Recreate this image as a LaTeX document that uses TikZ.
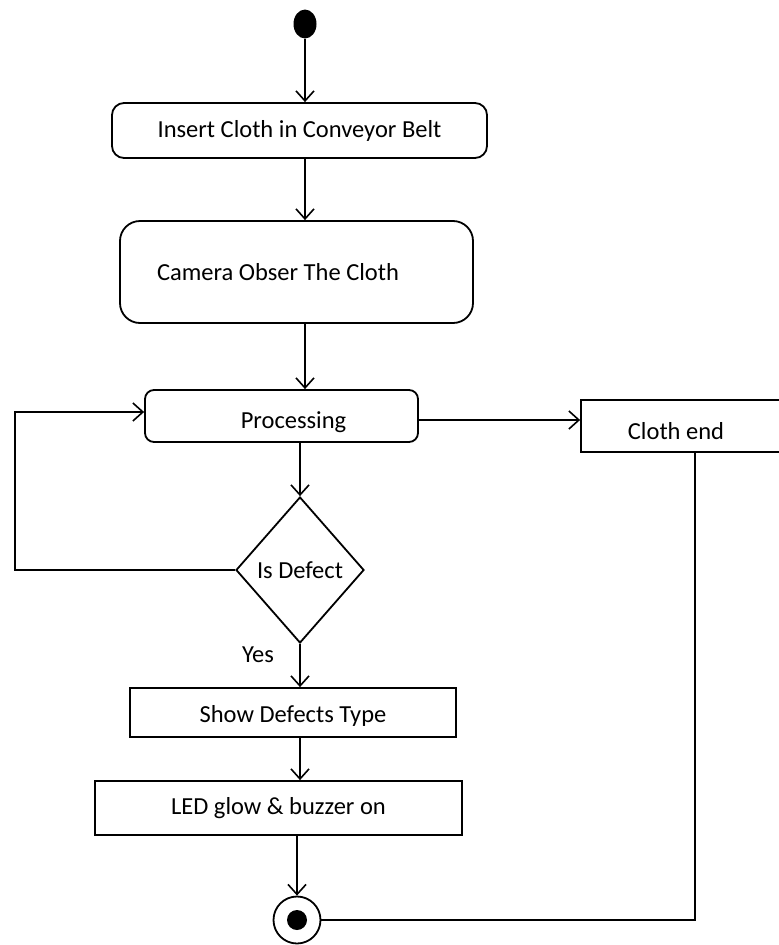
\documentclass[tikz,border=0pt]{standalone}
\usepackage{fontspec}
\setmainfont{Carlito}
\usetikzlibrary{shapes.geometric,arrows.meta}
\begin{document}
\begin{tikzpicture}[x=1pt,y=-1pt, line width=1.8pt,
  every node/.style={font=\fontsize{24.5}{29}\selectfont},
  arr/.style={-{Straight Barb[length=10pt,width=18pt,line width=1.6pt]}},
  actbox/.style={draw, inner sep=0pt},
]
\fill[white] (0,0) rectangle (779,945);
\clip (0,0) rectangle (779,945);

\node[ellipse, fill=black, minimum width=23pt, minimum height=29pt, inner sep=0pt] (start) at (305,24) {};
\node[actbox, rounded corners=12pt, minimum width=375pt, minimum height=55pt] (insert) at (299.5,130.5) {Insert Cloth in Conveyor Belt};
\node[actbox, rounded corners=20pt, minimum width=353pt, minimum height=102pt] (camera) at (296.5,272) {Camera Obser The Cloth\hspace*{37pt}};
\node[actbox, rounded corners=9pt, minimum width=273pt, minimum height=52pt] (proc) at (281.5,416) {\hspace*{24pt}\raisebox{-6pt}[\height][\depth]{Processing}};
\node[actbox, minimum width=209pt, minimum height=52pt] (clothend) at (685.5,426) {\raisebox{-5pt}[\height][\depth]{Cloth end}\hspace*{19pt}};
\node[actbox, diamond, minimum width=128pt, minimum height=146pt] (dec) at (300,570) {Is Defect};
\node (yes) at (258,655) {Yes};
\node[actbox, minimum width=326pt, minimum height=49pt] (show) at (293,712.5) {\raisebox{-3pt}[\height][\depth]{Show Defects Type}};
\node[actbox, minimum width=367pt, minimum height=54pt] (led) at (278.5,808) {LED glow \& buzzer on};
\node[circle, draw, minimum size=47pt, inner sep=0pt] (end) at (297,920) {};
\fill (end.center) circle[radius=10pt];

\coordinate (loopx) at (15,572);
\coordinate (drop) at (695,452);

\draw[arr] (start.south) -- (start.south |- insert.north);
\draw[arr] (insert.south -| start.south) -- (camera.north -| start.south);
\draw[arr] (camera.south -| start.south) -- (proc.north -| start.south);
\draw[arr] (dec.north |- proc.south) -- (dec.north);
\draw[arr] (dec.south) -- (show.north -| dec.south);
\draw[arr] (show.south -| dec.south) -- (led.north -| dec.south);
\draw[arr] (led.south -| end.north) -- (end.north);
\draw[arr] ([yshift=-4pt]proc.east) -- ([yshift=-4pt]proc.east -| clothend.west);
\draw[arr] (dec.west) -- (dec.west -| loopx) |- ([yshift=4pt]proc.west);
\draw (clothend.south -| drop) |- (end.east);
\end{tikzpicture}
\end{document}
